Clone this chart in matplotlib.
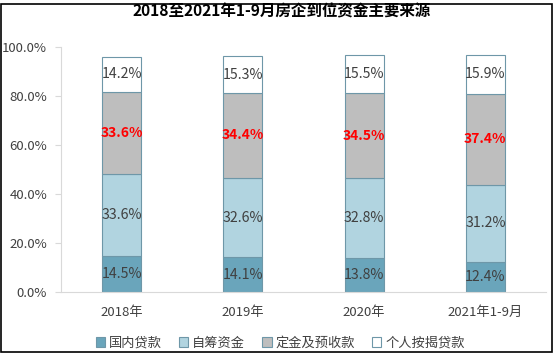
import matplotlib
matplotlib.use("Agg")
import matplotlib.pyplot as plt
from matplotlib.patches import Rectangle
import numpy as np

plt.rcParams['font.family'] = ['Noto Sans CJK SC', 'DejaVu Sans']

categories = ['2018年', '2019年', '2020年', '2021年1-9月']
series_names = ['国内贷款', '自筹资金', '定金及预收款', '个人按揭贷款']
domestic = [14.5, 14.1, 13.8, 12.4]
selfraised = [33.6, 32.6, 32.8, 31.2]
deposits = [33.6, 34.4, 34.5, 37.4]
mortgage = [14.2, 15.3, 15.5, 15.9]
yticks = [0, 20, 40, 60, 80, 100]
title = '2018至2021年1-9月房企到位资金主要来源'

colors = ['#6aa5bb', '#b1d4e0', '#bebebe', '#ffffff']
edge = '#6e97a8'
txt = '#404040'

fig = plt.figure(figsize=(5.55, 3.55), dpi=100)
ax = fig.add_axes([61/555, 1-292/355, (546-61)/555, (292-47)/355])

x = np.arange(len(categories))
series = [domestic, selfraised, deposits, mortgage]
bottom = np.zeros(len(categories))
for i, (vals, name) in enumerate(zip(series, series_names)):
    vals = np.array(vals)
    ax.bar(x, vals, width=0.32, bottom=bottom, color=colors[i], edgecolor=edge,
           linewidth=0.8, label=name)
    for xi, b, v in zip(x, bottom, vals):
        if i == 2:
            ax.text(xi, b + v/2, f'{v:.1f}%', ha='center', va='center',
                    fontsize=10, color='#ff0000', fontweight='bold')
        else:
            ax.text(xi, b + v/2, f'{v:.1f}%', ha='center', va='center',
                    fontsize=10.2, color=txt)
    bottom = bottom + vals

ax.set_xlim(-0.5, len(categories)-0.5)
ax.set_ylim(0, 100)
ax.set_yticks(yticks)
ax.set_yticklabels([f'{v:.1f}%' for v in yticks], fontsize=9.5, color=txt)
ax.set_xticks(x)
ax.set_xticklabels(categories, fontsize=9.5, color=txt)
ax.tick_params(axis='x', length=0, pad=10)
ax.tick_params(axis='y', length=4, color='#d9d9d9', pad=6)
for s in ['top', 'right']:
    ax.spines[s].set_visible(False)
for s in ['left', 'bottom']:
    ax.spines[s].set_color('#d9d9d9')
    ax.spines[s].set_linewidth(0.8)

leg = fig.legend(loc='center', bbox_to_anchor=(0.505, 12/355), ncol=4, frameon=False,
                 fontsize=9.5, handlelength=0.7, handleheight=0.7, handletextpad=0.3,
                 columnspacing=1.3)
for t in leg.get_texts():
    t.set_color(txt)

fig.text(0.507, 1-11/355, title, ha='center', va='center', fontsize=11.2,
         fontweight='bold', color='#000000')

fig.patches.append(Rectangle((1/555, 1-352/355), 551/555, 348/355, transform=fig.transFigure,
                             fill=False, edgecolor='black', linewidth=1.2, zorder=-1))

fig.savefig('out.png', dpi=100)
